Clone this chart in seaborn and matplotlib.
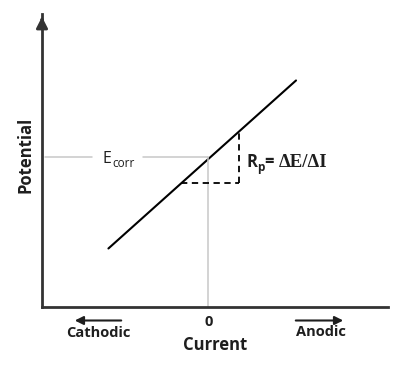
import matplotlib
matplotlib.use("Agg")
import matplotlib.pyplot as plt
import seaborn as sns
import pandas as pd

sns.set_theme(style="white")
plt.rcParams['font.family'] = ['Open Sans', 'DejaVu Sans']

# Data (arbitrary units: current 0 at x=0, Ecorr at y=0)
line_current = [-0.60, 0.53]
line_potential = [-0.61, 0.51]
ecorr = 0.0
dI_start, dI_end = -0.163, 0.187
dE_low, dE_high = -0.173, 0.173
x_limits = (-1.0, 1.084)
y_limits = (-1.0, 0.953)

W, H = 404, 367
fig = plt.figure(figsize=(W/100, H/100), dpi=100)
ax = fig.add_axes([42/W, 1-307/H, (388-42)/W, (307-14)/H])

df = pd.DataFrame({"Current": line_current, "Potential": line_potential})
sns.lineplot(data=df, x="Current", y="Potential", ax=ax, color="black", linewidth=1.5)

# Ecorr guide lines (gray)
ax.plot([x_limits[0] + 0.02, -0.70], [ecorr, ecorr], color="#c8c8c8", lw=1.1)
ax.plot([-0.39, 0.0], [ecorr, ecorr], color="#c8c8c8", lw=1.1)
ax.plot([0.0, 0.0], [y_limits[0], ecorr], color="#c8c8c8", lw=1.1)

# dashed triangle
ax.plot([dI_start, dI_end], [dE_low, dE_low], color="black", lw=1.3, ls=(0, (3.5, 2.5)))
ax.plot([dI_end, dI_end], [dE_low, dE_high], color="black", lw=1.3, ls=(0, (3.5, 2.5)))

ax.set_xlim(*x_limits)
ax.set_ylim(*y_limits)
ax.set_xticks([])
ax.set_yticks([])
ax.set_xlabel("")
ax.set_ylabel("")
for s in ["top", "right"]:
    ax.spines[s].set_visible(False)
for s in ["left", "bottom"]:
    ax.spines[s].set_color("#333333")
    ax.spines[s].set_linewidth(2)

# y axis arrow head
ax.annotate("", xy=(0, 1.0), xytext=(0, 0.97), xycoords="axes fraction",
            arrowprops=dict(arrowstyle="-|>,head_length=0.55,head_width=0.28", color="#333333", lw=2),
            annotation_clip=False)

def px(x, y):
    return x / W, 1 - y / H

tc = "#1e1e1e"
# Ecorr label
fig.text(*px(103, 163), "E", fontsize=11.5, ha="left", va="baseline", color=tc)
fig.text(*px(112, 167), "corr", fontsize=8.5, ha="left", va="baseline", color=tc)

# Rp label
fig.text(*px(246, 167), "R", fontsize=12, fontweight="bold", ha="left", va="baseline", color=tc)
fig.text(*px(257, 171), "p", fontsize=8.5, fontweight="bold", ha="left", va="baseline", color=tc)
fig.text(*px(264, 167), "=", fontsize=12, fontweight="bold", ha="left", va="baseline", color=tc)
fig.text(*px(279, 167), "\u0394E/\u0394I", fontsize=13.5, fontweight="bold",
         family=["Liberation Serif", "DejaVu Serif"], ha="left", va="baseline", color=tc)

fig.text(*px(26, 155), "Potential", rotation=90, fontsize=12, fontweight="bold",
         ha="center", va="center", color=tc)
fig.text(*px(209, 322), "0", fontsize=10.5, fontweight="bold", ha="center", va="center", color=tc)
fig.text(*px(215, 345), "Current", fontsize=12, fontweight="bold", ha="center", va="center", color=tc)
fig.text(*px(98, 333), "Cathodic", fontsize=10.5, fontweight="bold", ha="center", va="center", color=tc)
fig.text(*px(321, 332), "Anodic", fontsize=10.5, fontweight="bold", ha="center", va="center", color=tc)

fig.patches.append(matplotlib.patches.FancyArrowPatch(
    px(124, 320.5), px(72, 320.5), transform=fig.transFigure,
    arrowstyle="-|>,head_length=5,head_width=2.5", color=tc, lw=1.5))
fig.patches.append(matplotlib.patches.FancyArrowPatch(
    px(293, 320.5), px(346, 320.5), transform=fig.transFigure,
    arrowstyle="-|>,head_length=5,head_width=2.5", color=tc, lw=1.5))

fig.savefig("out.png", dpi=100, facecolor="white")
